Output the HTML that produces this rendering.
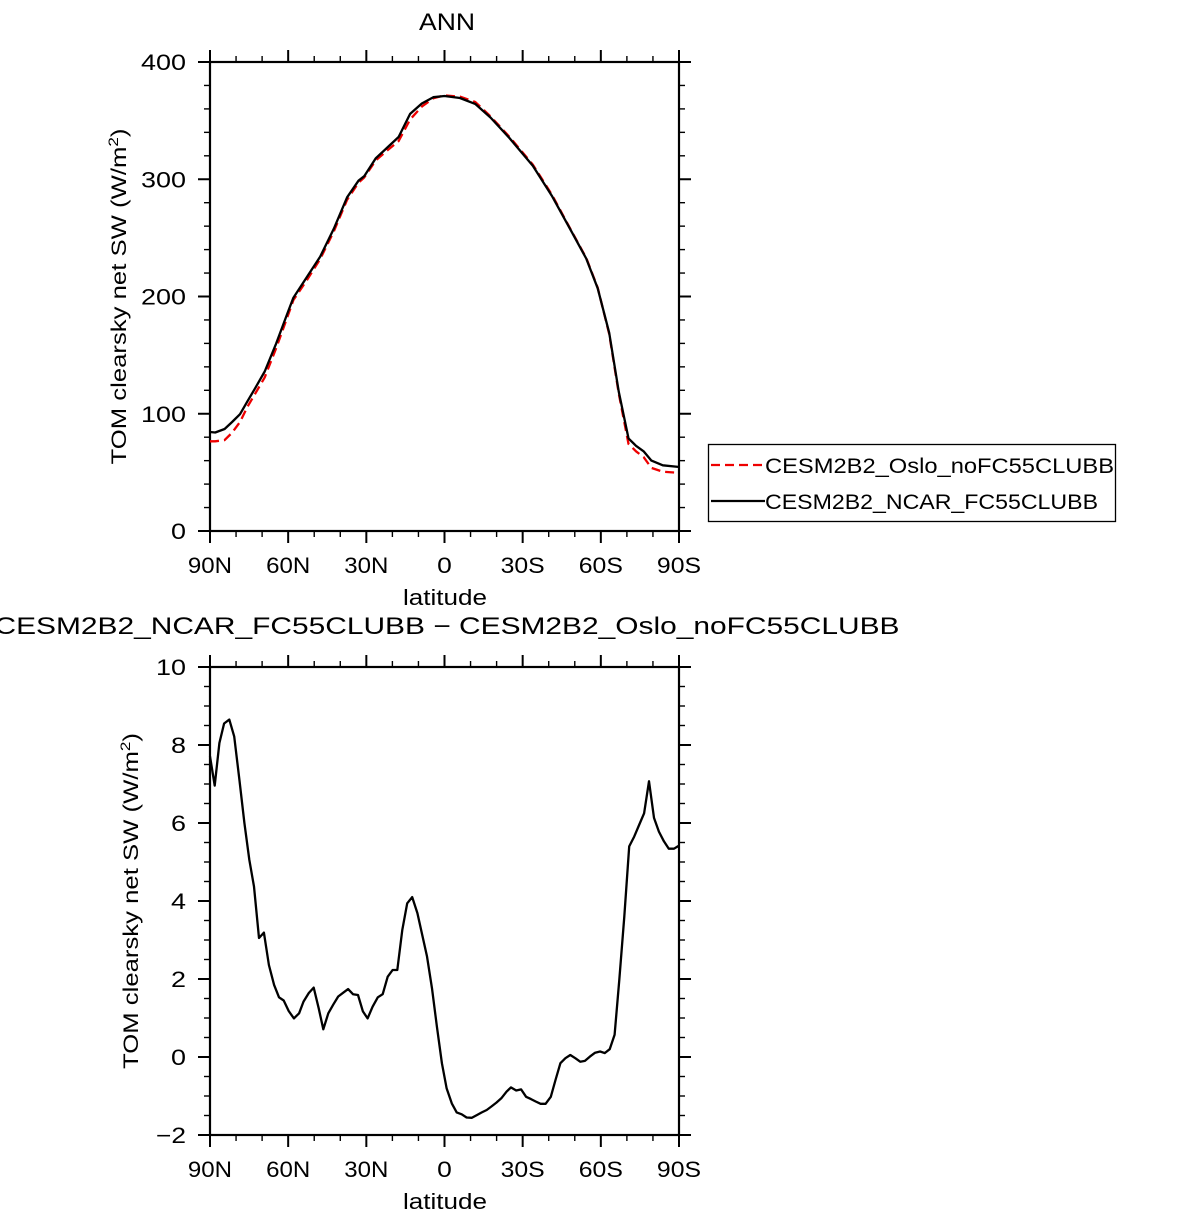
<!DOCTYPE html>
<html><head><meta charset="utf-8"><style>
html,body{margin:0;padding:0;background:#fff;}
svg text{font-family:"Liberation Sans",sans-serif;fill:#000;}
</style></head><body>
<svg id="chart" width="1198" height="1221" viewBox="0 0 1198 1221" xmlns="http://www.w3.org/2000/svg">
<g id="top"></g>
<g id="bot"></g>
<g>
<rect x="708.5" y="444.5" width="407" height="77" fill="none" stroke="#000" stroke-width="1.3"/>
<line x1="711" y1="465" x2="765" y2="465" stroke="#e00" stroke-width="2.2" stroke-dasharray="9,5"/>
<text x="765" y="473" font-size="21" textLength="349" lengthAdjust="spacingAndGlyphs">CESM2B2_Oslo_noFC55CLUBB</text>
<line x1="711" y1="501" x2="765" y2="501" stroke="#000" stroke-width="2.2"/>
<text x="765" y="509" font-size="21" textLength="333" lengthAdjust="spacingAndGlyphs">CESM2B2_NCAR_FC55CLUBB</text>
</g>
</svg>
<script>
// Top panel data
const latTop = [90,88,84.4,81.5,78.5,75.6,72.7,69,64.6,60.2,58,52.8,47.7,42.5,37.4,33,30.8,26.4,22,17.6,13.2,8.7,4.3,0,-5.9,-11.8,-17.7,-25,-33.9,-41.2,-48.6,-54.4,-58.8,-63.2,-66.9,-70.6,-73.5,-76.4,-79.4,-83.8,-89.7,-90];
const ncarTop = [84.4,84,87,93,99.6,110.7,121.7,136,160,186,199,216.6,234,257.7,284.6,298.8,302.6,317.8,327,336,355.7,364.6,370,371,369.3,364.3,352.6,335,311.5,286,256,232.4,207,169,118.6,79,72.7,68,60,56,54.7,54.7];
const osloTop = [76.5,76.5,77.5,83.8,93,106,117,131,156,183,197,214,232,255.5,282.5,297,301.5,316,324.5,332.5,351,362,369,371.5,370.5,366,353.5,336,312.5,287,256.5,233,207.5,168,117,74.3,68,63,53.8,50.6,49.6,49.6];
const yTicksTop = [0,100,200,300,400];
// Bottom panel data
const latBot = [90,88.2,86.4,84.6,82.6,80.7,78.7,76.8,74.9,73.1,71.2,69.3,67.4,65.4,63.5,61.7,59.8,57.8,55.8,54.1,52.1,50.2,48.3,46.5,44.6,42.7,40.8,38.8,37,35.1,33.2,31.3,29.5,27.6,25.6,23.7,21.8,19.9,18.1,16.2,14.3,12.4,10.4,8.7,6.7,4.8,2.9,1,-0.8,-2.8,-4.7,-6.6,-8.5,-10.5,-12.4,-14.3,-16.2,-18,-19.9,-21.8,-23.8,-25.5,-27.5,-29.4,-31.3,-33.2,-35,-36.9,-38.8,-40.8,-42.6,-44.5,-46.4,-48.3,-50.2,-52.1,-53.9,-55.8,-57.8,-59.7,-61.5,-63.4,-65.3,-67.1,-69,-70.9,-72.8,-74.7,-76.6,-78.5,-80.4,-82.3,-84.2,-86.1,-88.1,-90];
const diffBot = [7.71,6.96,8.05,8.55,8.65,8.22,7.11,6.0,5.06,4.37,3.05,3.19,2.36,1.85,1.53,1.45,1.18,0.99,1.12,1.42,1.64,1.78,1.25,0.71,1.12,1.34,1.55,1.65,1.74,1.61,1.59,1.17,0.99,1.29,1.53,1.61,2.06,2.23,2.23,3.26,3.94,4.10,3.69,3.18,2.58,1.76,0.78,-0.16,-0.80,-1.19,-1.42,-1.47,-1.55,-1.56,-1.49,-1.42,-1.36,-1.27,-1.17,-1.06,-0.89,-0.78,-0.86,-0.83,-1.02,-1.08,-1.14,-1.20,-1.20,-1.02,-0.59,-0.16,-0.03,0.05,-0.03,-0.12,-0.10,0.01,0.11,0.14,0.10,0.20,0.57,1.98,3.60,5.40,5.65,5.95,6.25,7.07,6.13,5.78,5.53,5.34,5.34,5.42];
const yTicksBot = [-2,0,2,4,6,8,10];
const xTickLats = [90,60,30,0,-30,-60,-90];
const xTickLabels = ["90N","60N","30N","0","30S","60S","90S"];

const NS='http://www.w3.org/2000/svg';
function mk(tag, attrs, parent){const e=document.createElementNS(NS,tag);for(const k in attrs)e.setAttribute(k,attrs[k]);parent.appendChild(e);return e;}

function panel(g, top, bottom, ymin, ymax, yTicks, minorStep, series, title, titleY, titleSize, titleLen, prefix){
  const L=210,R=679;
  const X=lat=>L+(90-lat)/180*(R-L);
  const Y=v=>bottom-(v-ymin)/(ymax-ymin)*(bottom-top);
  const frame=mk('rect',{x:L,y:top,width:R-L,height:bottom-top,fill:'none',stroke:'#000','stroke-width':2.2},g);
  
  
  for(let lat=90;lat>=-90;lat-=10){
    const major=(lat%30===0), len=major?12:6, x=X(lat);
    mk('line',{x1:x,y1:bottom,x2:x,y2:bottom+len,stroke:'#000','stroke-width':major?2:1.4},g);
    mk('line',{x1:x,y1:top,x2:x,y2:top-len,stroke:'#000','stroke-width':major?2:1.4},g);
  }
  xTickLats.forEach((lat,i)=>{
    const lab=xTickLabels[i];
    const t=mk('text',{x:X(lat),y:bottom+42,'font-size':22,'text-anchor':'middle',textLength:lab.length*14.7,lengthAdjust:'spacingAndGlyphs'},g);
    
    
    t.textContent=lab;
  });
  const n=Math.round((ymax-ymin)/minorStep);
  for(let i=0;i<=n;i++){
    const v=ymin+i*minorStep, y=Y(v);
    const major=yTicks.some(t=>Math.abs(t-v)<1e-9), len=major?12:6;
    mk('line',{x1:L,y1:y,x2:L-len,y2:y,stroke:'#000','stroke-width':major?2:1.4},g);
    mk('line',{x1:R,y1:y,x2:R+len,y2:y,stroke:'#000','stroke-width':major?2:1.4},g);
  }
  yTicks.forEach(v=>{
    const lab=(v<0?'\u2212'+(-v):String(v));
    const t=mk('text',{x:186,y:Y(v)+8,'font-size':22,'text-anchor':'end',textLength:lab.length*15,lengthAdjust:'spacingAndGlyphs'},g);
    
    
    t.textContent=lab;
  });
  const xt=mk('text',{x:445,y:bottom+74,'font-size':22,'text-anchor':'middle',textLength:84,lengthAdjust:'spacingAndGlyphs'},g);
  
  
  xt.textContent='latitude';
  const cy=(top+bottom)/2, cx=prefix==='top'?126:138;
  const yt=mk('text',{x:cx,y:cy,'font-size':21,'text-anchor':'middle',transform:`rotate(-90 ${cx} ${cy})`,textLength:336,lengthAdjust:'spacingAndGlyphs'},g);
  
  
  yt.innerHTML='TOM clearsky net SW (W/m<tspan dy="-8" font-size="14">2</tspan><tspan dy="8">)</tspan>';
  const tt=mk('text',{x:447,y:titleY,'font-size':titleSize,'text-anchor':'middle'},g);
  if(titleLen){tt.setAttribute('textLength',titleLen);tt.setAttribute('lengthAdjust','spacingAndGlyphs');}
  
  
  tt.textContent=title;
  series.forEach(s=>{
    const d=s.lat.map((la,i)=>(i?'L':'M')+X(la).toFixed(1)+','+Y(s.val[i]).toFixed(1)).join(' ');
    const p=mk('path',{d:d,fill:'none',stroke:s.color,'stroke-width':2.3,'stroke-linejoin':'round'},g);
    if(s.dash)p.setAttribute('stroke-dasharray',s.dash);
    
    
  });
}
panel(document.getElementById('top'),62,531,0,400,yTicksTop,20,[
  {lat:latTop,val:osloTop,color:'#e00',dash:'9,5',name:'series-oslo-line'},
  {lat:latTop,val:ncarTop,color:'#000',name:'series-ncar-line'}
],'ANN',30,24,56,'top');
panel(document.getElementById('bot'),667,1135,-2,10,yTicksBot,0.5,[
  {lat:latBot,val:diffBot,color:'#000',name:'difference-line'}
],'CESM2B2_NCAR_FC55CLUBB \u2212 CESM2B2_Oslo_noFC55CLUBB',634,24,905,'bot');
</script>
</body></html>
